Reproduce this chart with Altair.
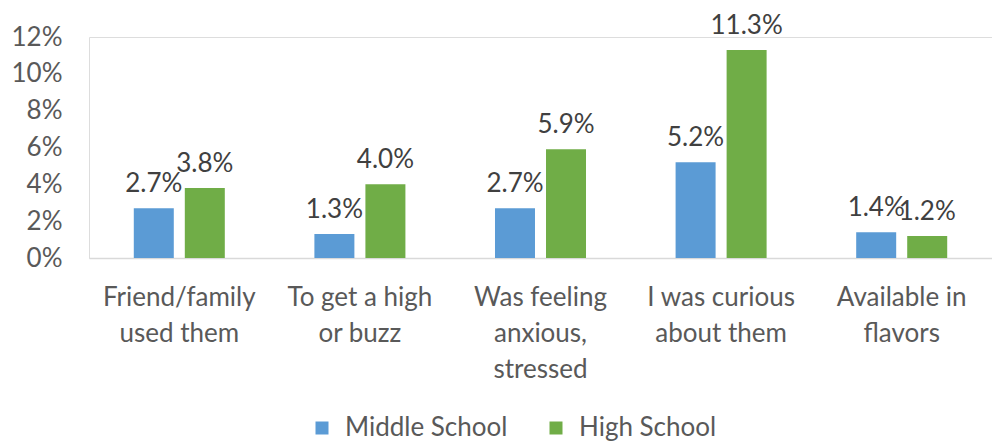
import altair as alt
import pandas as pd

categories = ["Friend/family\nused them", "To get a high\nor buzz", "Was feeling\nanxious,\nstressed",
              "I was curious\nabout them", "Available in\nflavors"]
middle_school = [2.7, 1.3, 2.7, 5.2, 1.4]
high_school = [3.8, 4.0, 5.9, 11.3, 1.2]
series = ["Middle School", "High School"]
colors = ["#5B9BD5", "#70AD47"]

rows = []
for i, c in enumerate(categories):
    rows.append({"cat": c, "series": series[0], "value": middle_school[i]})
    rows.append({"cat": c, "series": series[1], "value": high_school[i]})
df = pd.DataFrame(rows)

FONT = "Lato"
FS = 26

x = alt.X("cat:N", sort=categories, title=None,
          scale=alt.Scale(paddingInner=0, paddingOuter=0),
          axis=alt.Axis(labelAngle=0, labelExpr="split(datum.label, '\\n')", labelFontSize=FS,
                        labelColor="#595959", labelFont=FONT, labelLineHeight=36, labelPadding=39,
                        ticks=False, domainColor="#D9D9D9", domainWidth=1.5, labelBaseline="middle"))
xoff = alt.XOffset("series:N", sort=series, scale=alt.Scale(paddingInner=0.216, paddingOuter=0.878))
y = alt.Y("value:Q", title=None, scale=alt.Scale(domain=[0, 12]),
          axis=alt.Axis(values=[0, 2, 4, 6, 8, 10, 12], labelExpr="datum.value + '%'", labelFontSize=FS,
                        labelColor="#595959", labelFont=FONT, ticks=False, domain=False, grid=False,
                        labelPadding=27))

bars = alt.Chart(df).mark_bar().encode(
    x=x, xOffset=xoff, y=y,
    color=alt.Color("series:N", sort=series, scale=alt.Scale(domain=series, range=colors),
                    legend=alt.Legend(title=None, orient="none", legendX=220, legendY=378,
                                      direction="horizontal", symbolType="square", symbolSize=169,
                                      labelFontSize=FS, labelFont=FONT, labelColor="#595959",
                                      columnPadding=35, symbolStrokeWidth=0, labelOffset=10,
                                      labelLimit=400, padding=0))
)

labels = alt.Chart(df).transform_calculate(lbl="format(datum.value, '.1f') + '%'").mark_text(
    baseline="middle", dy=-24, fontSize=FS, font=FONT, color="#404040").encode(
    x=x, xOffset=xoff, y=y, text="lbl:N")

chart = (bars + labels).properties(
    width=903, height=221,
    autosize=alt.AutoSizeParams(type="none"),
    padding={"left": 81, "top": 29, "right": 0, "bottom": 184},
).configure_view(strokeWidth=0).configure(background="white")

chart.save("out.html", embed_options={"renderer": "svg", "actions": False})
